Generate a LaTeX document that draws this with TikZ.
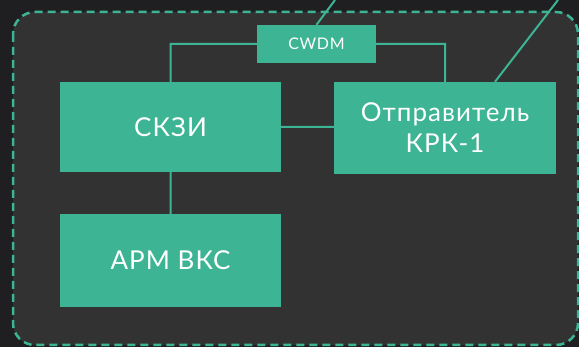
\documentclass[tikz,border=0pt]{standalone}
\usepackage{fontspec}
\setmainfont{Lato}[LetterSpace=4]
\usetikzlibrary{positioning}

\definecolor{bgdark}{HTML}{1F1F21}
\definecolor{panel}{HTML}{323232}
\definecolor{teal}{HTML}{3DB493}

\pgfdeclarelayer{back}
\pgfdeclarelayer{edges}
\pgfsetlayers{back,edges,main}

\tikzset{
    blok/.style = {rectangle, fill=teal, text=white, inner sep=0pt, align=center,
                   minimum width=221pt, font=\fontsize{26}{31}\selectfont},
    link/.style = {draw=teal, line width=2pt}
}

\begin{document}
\begin{tikzpicture}[x=1pt, y=-1pt]
                \useasboundingbox (0,0) rectangle (579,347);

                \node (cwdm) [blok, minimum width=119pt, minimum height=38pt, font=\fontsize{16}{18}\selectfont] at (316.5,44) {CWDM};
                \node (skzi) [blok, minimum height=90pt] at (170.5,127) {СКЗИ};
                \node (otpr) [blok, minimum width=222pt, minimum height=92pt] at (445,128) {Отправитель\\КРК-1};
                \node (arm) [blok, minimum height=93pt] at (170.5,260.5) {АРМ ВКС};

                \coordinate (up1) at (335,0);
                \coordinate (up2) at (558,0);

                \begin{pgfonlayer}{back}
                    \fill [bgdark] (0,0) rectangle (579,347);
                    \draw [fill=panel, draw=teal, line width=2.5pt, dash pattern=on 8pt off 5pt, rounded corners=22pt]
                        (13,12) rectangle (578,345);
                \end{pgfonlayer}

                \begin{pgfonlayer}{edges}
                    \path [link]
                        (cwdm.west) -| (skzi.north)
                        (cwdm.east) -| (otpr.north)
                        (skzi.east) -- (skzi.east -| otpr.west)
                        (skzi) -- (arm)
                        (cwdm.north) -- (up1)
                        ([xshift=50pt]otpr.north) -- (up2);
                \end{pgfonlayer}
            \end{tikzpicture}
\end{document}
